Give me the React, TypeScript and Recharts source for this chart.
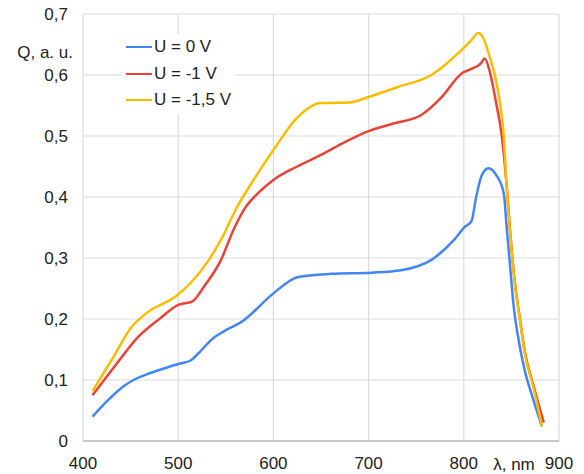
import React from "react";
import {
  CartesianGrid,
  Legend,
  Line,
  LineChart,
  XAxis,
  YAxis,
} from "recharts";

// U = 0 V
const lambda0 = [410, 425, 442, 453, 470, 489, 502, 513, 522, 537, 545, 569, 600, 626, 661, 703, 734, 766, 790, 801, 808, 813, 819, 826, 834, 842, 845, 849, 852, 857, 864, 873, 882];
const q0 = [0.04, 0.065, 0.089, 0.1, 0.111, 0.121, 0.127, 0.132, 0.145, 0.169, 0.177, 0.198, 0.242, 0.269, 0.274, 0.276, 0.28, 0.297, 0.33, 0.351, 0.36, 0.4, 0.436, 0.447, 0.436, 0.406, 0.351, 0.28, 0.226, 0.171, 0.116, 0.068, 0.024];

// U = -1 V
const lambda1 = [410, 436, 457, 481, 500, 515, 527, 545, 558, 569, 585, 600, 625, 650, 675, 700, 725, 755, 777, 798, 808, 818, 822, 827, 834, 840, 845, 849, 854, 859, 864, 873, 884];
const q1 = [0.075, 0.128, 0.169, 0.201, 0.223, 0.229, 0.253, 0.297, 0.346, 0.379, 0.408, 0.428, 0.45, 0.469, 0.49, 0.508, 0.52, 0.534, 0.564, 0.603, 0.61, 0.619, 0.627, 0.607, 0.554, 0.499, 0.419, 0.337, 0.255, 0.2, 0.147, 0.092, 0.03];

// U = -1,5 V
const lambda15 = [410, 432, 450, 467, 499, 513, 531, 545, 562, 580, 600, 625, 650, 680, 700, 730, 766, 801, 808, 815, 820, 826, 833, 838, 842, 845, 849, 854, 859, 864, 873, 882];
const q15 = [0.082, 0.138, 0.185, 0.21, 0.239, 0.259, 0.294, 0.33, 0.384, 0.43, 0.477, 0.53, 0.554, 0.555, 0.564, 0.58, 0.6, 0.646, 0.657, 0.669, 0.662, 0.636, 0.597, 0.554, 0.499, 0.417, 0.335, 0.253, 0.198, 0.144, 0.089, 0.024];

const xTicks = [400, 500, 600, 700, 800, 900];
const yTicks = [0, 0.1, 0.2, 0.3, 0.4, 0.5, 0.6, 0.7];

const toPoints = (xs: number[], ys: number[]) =>
  xs.map((x, i) => ({ x, q: ys[i] }));

const series = [
  { name: "U = 0 V", color: "#4285F4", data: toPoints(lambda0, q0) },
  { name: "U = -1 V", color: "#EA4335", data: toPoints(lambda1, q1) },
  { name: "U = -1,5 V", color: "#FBBC04", data: toPoints(lambda15, q15) },
];

const font = "Arial, 'Liberation Sans', sans-serif";
const textColor = "#222";

const renderLegend = (props: any) => {
  // keep the legend in series order
  const items = [...props.payload].sort(
    (a: any, b: any) =>
      series.findIndex((s) => s.name === a.value) -
      series.findIndex((s) => s.name === b.value)
  );
  return (
    <div style={{ background: "#fff", padding: "0 4px", fontFamily: font }}>
      {items.map((p: any) => (
        <div
          key={p.value}
          style={{ display: "flex", alignItems: "center", height: 26.5, fontSize: 17, color: textColor }}
        >
          <span style={{ display: "inline-block", width: 26, height: 2, background: p.color, marginRight: 2 }} />
          {p.value}
        </div>
      ))}
    </div>
  );
};

const App = () => {
  return (
    <div style={{ position: "absolute", left: 0, top: 0, background: "#fff" }}>
      <LineChart
        width={584}
        height={474}
        margin={{ top: 14, right: 25, bottom: 0, left: 0 }}
      >
        <CartesianGrid stroke="#dcdcdc" strokeWidth={1.2} />
        <XAxis
          type="number"
          dataKey="x"
          domain={[400, 900]}
          ticks={xTicks}
          allowDataOverflow
          height={33}
          tickLine={false}
          tickSize={6}
          tickMargin={10}
          axisLine={{ stroke: "#bdbdbd", strokeWidth: 1.5 }}
          tick={{ fill: textColor, fontSize: 17, fontFamily: font }}
          label={{
            content: () => (
              <text x={514} y={470} textAnchor="middle" fill={textColor} fontSize={17} fontFamily={font}>
                λ, nm
              </text>
            ),
          }}
        />
        <YAxis
          type="number"
          domain={[0, 0.7]}
          ticks={yTicks}
          width={83}
          tickLine={false}
          axisLine={false}
          tickSize={6}
          tickMargin={9}
          tickFormatter={(v: number) => String(Math.round(v * 10) / 10).replace(".", ",")}
          tick={{ fill: textColor, fontSize: 17, fontFamily: font }}
          label={{
            content: () => (
              <text x={73} y={58} textAnchor="end" fill={textColor} fontSize={17} fontFamily={font}>
                Q, a. u.
              </text>
            ),
          }}
        />
        <Legend
          layout="horizontal"
          verticalAlign="middle"
          align="center"
          content={renderLegend}
          wrapperStyle={{ top: 34, left: 122, width: "auto", height: "auto" }}
        />
        {series.map((s) => (
          <Line
            key={s.name}
            name={s.name}
            data={s.data}
            dataKey="q"
            type="monotone"
            stroke={s.color}
            strokeWidth={2.5}
            dot={false}
            activeDot={false}
            isAnimationActive={false}
          />
        ))}
      </LineChart>
    </div>
  );
};

export default App;
